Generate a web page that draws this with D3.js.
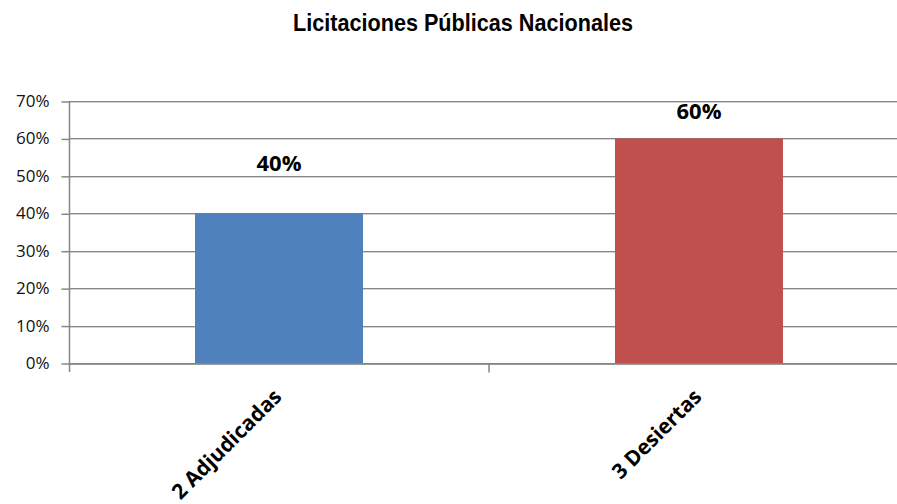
<!DOCTYPE html>
<html>
<head>
<meta charset="utf-8">
<script src="https://cdn.jsdelivr.net/npm/d3@7"></script>
<style>
  body { margin: 0; background: #fff; }
  svg { display: block; }
</style>
</head>
<body>
<div id="chart-area"></div>
<script>
const categories = ["2 Adjudicadas", "3 Desiertas"]
const values = [0.40, 0.60]
const colors = ["#4F81BD", "#C0504D"]
const yTicks = [0, 0.1, 0.2, 0.3, 0.4, 0.5, 0.6, 0.7]

const WIDTH = 897
const HEIGHT = 504
const PLOT = {LEFT: 69, RIGHT: 909, TOP: 101, BOTTOM: 363}
// label offsets above the bar tops (the labels were placed by hand in the original)
const LABEL_DY = [42, 19]
const FONT = "'Open Sans', 'Noto Sans', sans-serif"

const svg = d3.select("#chart-area").append("svg")
  .attr("width", WIDTH)
  .attr("height", HEIGHT)

svg.append("text")
  .attr("x", 463)
  .attr("y", 31)
  .attr("text-anchor", "middle")
  .attr("font-family", "'Liberation Sans', Arial, sans-serif")
  .attr("font-weight", "bold")
  .attr("font-size", 24)
  .attr("textLength", 340)
  .attr("lengthAdjust", "spacingAndGlyphs")
  .text("Licitaciones Públicas Nacionales")

const x = d3.scaleBand()
  .domain(categories)
  .range([PLOT.LEFT, PLOT.RIGHT])
  .padding(0)

const y = d3.scaleLinear()
  .domain([0, 0.7])
  .range([PLOT.BOTTOM, PLOT.TOP])

// gridlines (dark line with a faint shadow under it)
const grid = svg.append("g")
grid.selectAll("line.shadow")
  .data(yTicks)
  .enter().append("line")
    .attr("class", "shadow")
    .attr("x1", PLOT.LEFT)
    .attr("x2", PLOT.RIGHT)
    .attr("y1", d => Math.round(y(d)) + 1.5)
    .attr("y2", d => Math.round(y(d)) + 1.5)
    .attr("stroke", "#d4d4d4")
grid.selectAll("line.main")
  .data(yTicks)
  .enter().append("line")
    .attr("class", "main")
    .attr("x1", PLOT.LEFT)
    .attr("x2", PLOT.RIGHT)
    .attr("y1", d => Math.round(y(d)) + 0.5)
    .attr("y2", d => Math.round(y(d)) + 0.5)
    .attr("stroke", "#868686")

// bars
const barW = x.bandwidth() * 0.4
svg.append("g")
  .selectAll("rect")
  .data(values)
  .enter().append("rect")
    .attr("x", (d, i) => x(categories[i]) + (x.bandwidth() - barW) / 2)
    .attr("y", d => y(d))
    .attr("width", barW)
    .attr("height", d => y(0) - y(d))
    .attr("fill", (d, i) => colors[i])

// value labels
svg.append("g")
  .selectAll("text")
  .data(values)
  .enter().append("text")
    .attr("x", (d, i) => x(categories[i]) + x.bandwidth() / 2)
    .attr("y", (d, i) => y(d) - LABEL_DY[i])
    .attr("text-anchor", "middle")
    .attr("font-family", FONT)
    .attr("font-weight", "bold")
    .attr("font-size", 22)
    .text(d => d3.format(".0%")(d))

// y axis
const yAxisCall = d3.axisLeft(y)
  .tickValues(yTicks)
  .tickFormat(d3.format(".0%"))
  .tickSize(8)
  .tickPadding(12)
const yAxis = svg.append("g")
  .attr("transform", `translate(${PLOT.LEFT + 0.5},0)`)
  .call(yAxisCall)
yAxis.select(".domain")
  .attr("stroke", "#868686")
  .attr("stroke-width", 1.5)
  .attr("d", `M0,${PLOT.TOP}V${PLOT.BOTTOM + 9}`)
yAxis.selectAll(".tick line")
  .attr("stroke", "#868686")
  .attr("stroke-width", 1.5)
  .attr("transform", "translate(0,0.5)")
yAxis.selectAll("text")
  .attr("font-family", FONT)
  .attr("font-size", 17)
  .attr("fill", "#111")

// x axis
const xAxisCall = d3.axisBottom(x).tickSize(0).tickFormat("")
const xAxis = svg.append("g")
  .attr("transform", `translate(0,${PLOT.BOTTOM + 0.5})`)
  .call(xAxisCall)
xAxis.select(".domain").attr("stroke", "#868686").attr("stroke-width", 1.5)
// boundary tick between the categories
xAxis.append("line")
  .attr("x1", x(categories[1]))
  .attr("x2", x(categories[1]))
  .attr("y1", 0)
  .attr("y2", 9)
  .attr("stroke", "#868686")
  .attr("stroke-width", 1.5)

// category labels
svg.append("g")
  .selectAll("text")
  .data(categories)
  .enter().append("text")
    .attr("transform", d => `translate(${x(d) + x.bandwidth() / 2 + 4},${PLOT.BOTTOM + 35}) rotate(-45)`)
    .attr("text-anchor", "end")
    .attr("font-family", FONT)
    .attr("font-weight", "bold")
    .attr("font-size", 21)
    .text(d => d)
</script>
</body>
</html>
